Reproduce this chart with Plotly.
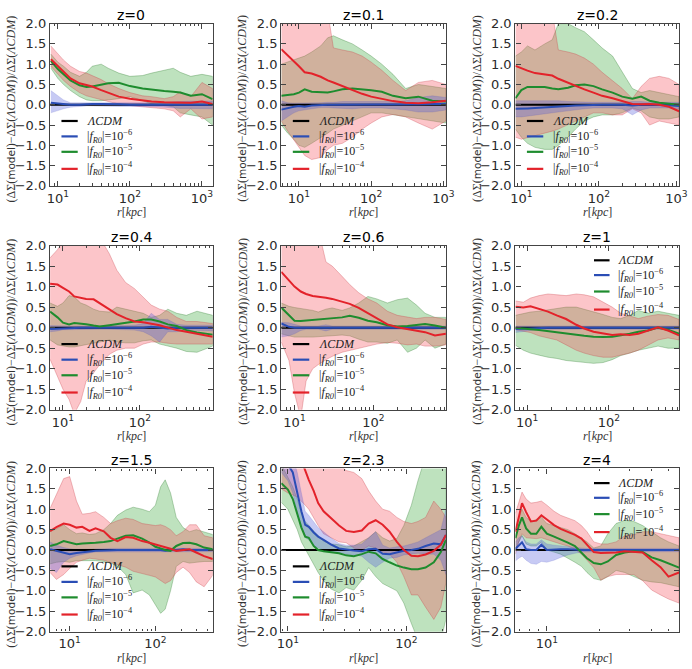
import math
import plotly.graph_objects as go

W, H = 692, 669
TITLES = ["z=0", "z=0.1", "z=0.2", "z=0.4", "z=0.6", "z=1", "z=1.5", "z=2.3", "z=4"]
LCDM_LEVEL = 0.0
X_TICKS = [10, 100, 1000]
X_TICKTEXT = ["10<sup>1</sup>", "10<sup>2</sup>", "10<sup>3</sup>"]
Y_TICKS = [-2.0, -1.5, -1.0, -0.5, 0.0, 0.5, 1.0, 1.5, 2.0]
LEG_LABELS = ["<i>ΛCDM</i>",
              "|<i>f</i><sub><i>R0</i></sub>|=10<sup>−6</sup>",
              "|<i>f</i><sub><i>R0</i></sub>|=10<sup>−5</sup>",
              "|<i>f</i><sub><i>R0</i></sub>|=10<sup>−4</sup>"]
LEG_POS = ["ll", "ll", "ll", "ll", "ll", "ur", "ll", "ll", "ur"]
X_RANGES = [[7.8, 1410], [5.7, 1080], [8.4, 1080], [6.8, 880], [6.8, 826],
            [7.2, 724], [5.9, 466], [8.8, 215], [6.6, 57.5]]

# ---------------- z=0 ----------------
R_Z0 = [8, 10, 12, 15, 20, 25, 30, 40, 50, 70, 100, 150, 200, 300, 400, 500, 700, 1000, 1400]
RD_Z0 = [1.12, 0.95, 0.82, 0.65, 0.53, 0.48, 0.45, 0.36, 0.30, 0.20, 0.15, 0.10, 0.08, 0.06, 0.06, 0.05, 0.05, 0.08, 0.02]
RL_Z0 = [0.95, 0.75, 0.60, 0.45, 0.30, 0.22, 0.18, 0.12, 0.08, 0.02, -0.02, -0.05, -0.08, -0.10, -0.15, -0.30, -0.10, -0.35, -0.30]
RH_Z0 = [1.45, 1.25, 1.10, 0.95, 0.82, 0.78, 0.72, 0.62, 0.52, 0.40, 0.30, 0.22, 0.20, 0.15, 0.20, 0.32, 0.20, 0.55, 0.40]
G_Z0 = [1.08, 0.88, 0.75, 0.60, 0.48, 0.44, 0.45, 0.50, 0.53, 0.54, 0.46, 0.40, 0.37, 0.34, 0.32, 0.30, 0.22, 0.26, 0.14]
GL_Z0 = [0.90, 0.65, 0.50, 0.35, 0.20, 0.12, 0.10, 0.10, 0.12, 0.15, 0.20, 0.10, 0.02, -0.02, -0.05, -0.20, -0.25, -0.30, -0.50]
GH_Z0 = [1.25, 1.05, 0.95, 0.80, 0.70, 0.80, 0.95, 1.00, 0.90, 0.78, 0.70, 0.72, 0.78, 0.85, 0.90, 0.80, 0.70, 0.75, 0.70]
B_Z0 = [0.05, 0.03, 0.02, 0.00, 0.00, 0.02, 0.02, 0.02, 0.01, 0.01, 0.00, 0.00, 0.00, 0.00, 0.00, 0.01, 0.00, 0.01, 0.00]
BL_Z0 = [-0.20, -0.15, -0.10, -0.06, -0.04, -0.03, -0.03, -0.03, -0.03, -0.04, -0.04, -0.04, -0.05, -0.06, -0.07, -0.09, -0.09, -0.09, -0.10]
BH_Z0 = [0.35, 0.22, 0.12, 0.05, 0.04, 0.05, 0.05, 0.05, 0.04, 0.05, 0.04, 0.04, 0.05, 0.06, 0.07, 0.09, 0.09, 0.09, 0.09]

# ---------------- z=0.1 ----------------
R_Z01 = [5.7, 7, 8.5, 10, 12, 15, 20, 25, 30, 40, 55, 75, 100, 140, 200, 300, 450, 700, 1080]
RD_Z01 = [1.37, 1.22, 1.08, 0.95, 0.80, 0.77, 0.69, 0.60, 0.55, 0.46, 0.36, 0.27, 0.20, 0.14, 0.09, 0.05, 0.04, 0.06, 0.10]
RL_Z01 = [-0.40, -0.65, -0.88, -1.05, -1.25, -1.35, -1.30, -1.10, -1.00, -0.95, -0.80, -0.60, -0.45, -0.30, -0.24, -0.30, -0.45, -0.60, -0.40]
RH_Z01 = [2.5, 2.5, 2.5, 2.5, 2.5, 2.5, 2.5, 2.3, 1.40, 1.35, 1.30, 1.20, 1.05, 0.85, 0.60, 0.35, 0.55, 0.60, 0.50]
G_Z01 = [0.22, 0.24, 0.26, 0.30, 0.38, 0.32, 0.30, 0.30, 0.33, 0.38, 0.40, 0.38, 0.36, 0.32, 0.22, 0.16, 0.20, 0.10, 0.08]
GL_Z01 = [-0.50, -0.70, -0.85, -1.00, -1.05, -0.95, -0.80, -0.70, -0.60, -0.50, -0.40, -0.30, -0.20, -0.20, -0.25, -0.30, -0.35, -0.40, -0.45]
GH_Z01 = [1.00, 1.05, 1.10, 1.15, 1.20, 1.30, 1.45, 1.65, 1.70, 1.60, 1.50, 1.35, 1.20, 1.00, 0.75, 0.40, 0.50, 0.45, 0.40]
B_Z01 = [-0.12, -0.08, -0.05, -0.03, -0.05, -0.02, 0.00, 0.00, 0.00, 0.00, 0.00, 0.00, 0.00, 0.00, 0.00, 0.00, 0.01, 0.02, 0.02]
BL_Z01 = [-0.40, -0.30, -0.20, -0.15, -0.12, -0.10, -0.07, -0.07, -0.08, -0.08, -0.10, -0.08, -0.08, -0.08, -0.10, -0.13, -0.18, -0.18, -0.13]
BH_Z01 = [0.10, 0.05, 0.04, 0.04, 0.04, 0.05, 0.05, 0.06, 0.06, 0.08, 0.08, 0.08, 0.08, 0.08, 0.08, 0.10, 0.18, 0.22, 0.18]

# ---------------- z=0.2 ----------------
R_Z02 = [8.4, 10, 12, 15, 20, 25, 30, 40, 50, 65, 85, 110, 150, 200, 270, 350, 450, 600, 800, 1080]
RD_Z02 = [0.96, 0.90, 0.84, 0.78, 0.74, 0.72, 0.64, 0.54, 0.46, 0.38, 0.30, 0.22, 0.16, 0.09, 0.02, 0.01, 0.02, 0.00, -0.05, -0.16]
RL_Z02 = [-0.80, -0.85, -0.80, -0.75, -0.70, -0.65, -0.60, -0.50, -0.40, -0.30, -0.20, -0.20, -0.25, -0.25, -0.10, -0.20, -0.50, -0.40, -0.45, -0.50]
RH_Z02 = [2.5, 2.5, 2.5, 2.5, 2.5, 2.3, 1.35, 1.30, 1.25, 1.15, 1.00, 0.80, 0.60, 0.40, 0.15, 0.45, 0.65, 0.70, 0.65, 0.50]
G_Z02 = [0.16, 0.36, 0.44, 0.44, 0.44, 0.40, 0.38, 0.42, 0.48, 0.50, 0.46, 0.38, 0.30, 0.20, 0.15, 0.20, 0.10, 0.05, 0.02, 0.00]
GL_Z02 = [-0.60, -0.80, -0.95, -1.05, -1.10, -1.10, -1.00, -0.80, -0.60, -0.40, -0.30, -0.25, -0.25, -0.20, -0.08, -0.15, -0.30, -0.35, -0.35, -0.30]
GH_Z02 = [1.20, 1.30, 1.45, 1.35, 1.50, 1.60, 2.00, 2.00, 1.90, 1.80, 1.60, 1.40, 1.20, 0.80, 0.40, 0.30, 0.35, 0.30, 0.25, 0.20]
B_Z02 = [-0.10, -0.10, -0.09, -0.08, -0.07, -0.05, -0.04, -0.03, -0.02, -0.01, 0.00, 0.00, 0.00, 0.00, -0.02, 0.00, 0.00, 0.00, -0.01, -0.03]
BL_Z02 = [-0.30, -0.30, -0.28, -0.25, -0.22, -0.20, -0.18, -0.15, -0.12, -0.10, -0.08, -0.08, -0.08, -0.10, -0.25, -0.13, -0.08, -0.08, -0.08, -0.10]
BH_Z02 = [0.10, 0.10, 0.10, 0.10, 0.10, 0.10, 0.10, 0.08, 0.07, 0.06, 0.06, 0.06, 0.06, 0.06, 0.08, 0.08, 0.06, 0.06, 0.06, 0.06]

# ---------------- z=0.4 ----------------
R_Z04 = [6.8, 8.5, 10, 12, 14, 17, 20, 25, 30, 40, 50, 65, 85, 110, 140, 180, 230, 300, 400, 550, 880]
RD_Z04 = [1.07, 1.05, 0.97, 0.88, 0.76, 0.72, 0.70, 0.69, 0.60, 0.45, 0.33, 0.23, 0.15, 0.13, 0.10, 0.06, 0.00, -0.06, -0.10, -0.15, -0.22]
RL_Z04 = [-0.77, -1.20, -1.50, -1.75, -2.10, -1.80, -1.30, -1.10, -0.90, -0.65, -0.55, -0.50, -0.50, -0.40, -0.35, -0.35, -0.38, -0.40, -0.40, -0.40, -0.40]
RH_Z04 = [1.70, 1.90, 2.10, 2.30, 2.30, 2.30, 2.30, 2.30, 2.20, 1.80, 1.40, 1.10, 0.95, 0.75, 0.55, 0.45, 0.40, 0.25, 0.15, 0.15, 0.10]
G_Z04 = [0.39, 0.25, 0.12, 0.08, 0.11, 0.10, 0.08, 0.05, 0.03, 0.06, 0.09, 0.11, 0.15, 0.20, 0.20, 0.15, 0.08, 0.04, -0.06, -0.12, -0.17]
GL_Z04 = [-0.30, -0.42, -0.45, -0.47, -0.47, -0.45, -0.42, -0.38, -0.35, -0.30, -0.35, -0.37, -0.37, -0.32, -0.30, -0.40, -0.45, -0.50, -0.58, -0.60, -0.45]
GH_Z04 = [0.60, 0.52, 0.60, 0.78, 0.75, 0.60, 0.55, 0.45, 0.40, 0.38, 0.50, 0.45, 0.40, 0.35, 0.25, 0.30, 0.45, 0.35, 0.30, 0.40, 0.30]
B_Z04 = [-0.03, -0.02, -0.01, 0.00, 0.00, 0.00, 0.00, 0.01, 0.00, 0.00, 0.00, 0.01, 0.00, 0.00, 0.02, 0.00, -0.02, 0.00, 0.00, 0.00, 0.00]
BL_Z04 = [-0.10, -0.08, -0.05, -0.04, -0.04, -0.04, -0.04, -0.04, -0.04, -0.04, -0.04, -0.05, -0.06, -0.10, -0.20, -0.35, -0.10, -0.10, -0.06, -0.06, -0.08]
BH_Z04 = [0.05, 0.04, 0.04, 0.04, 0.04, 0.04, 0.04, 0.04, 0.04, 0.04, 0.04, 0.05, 0.06, 0.10, 0.35, 0.20, 0.20, 0.08, 0.06, 0.06, 0.06]

# ---------------- z=0.6 ----------------
R_Z06 = [6.8, 8.5, 10, 12, 14, 17, 20, 25, 30, 40, 50, 65, 85, 110, 150, 200, 270, 350, 450, 600, 826]
RD_Z06 = [1.36, 1.14, 1.00, 0.88, 0.82, 0.77, 0.76, 0.73, 0.70, 0.64, 0.58, 0.48, 0.35, 0.21, 0.08, 0.01, -0.03, -0.07, -0.11, -0.19, -0.15]
RL_Z06 = [-0.35, -0.80, -1.60, -2.20, -1.30, -1.00, -0.90, -0.78, -0.70, -0.60, -0.55, -0.50, -0.45, -0.40, -0.36, -0.38, -0.42, -0.40, -0.45, -0.45, -0.42]
RH_Z06 = [2.2, 2.2, 2.2, 2.2, 2.2, 2.3, 2.4, 1.60, 1.50, 1.25, 1.05, 0.85, 0.70, 0.60, 0.40, 0.30, 0.25, 0.22, 0.25, 0.25, 0.20]
G_Z06 = [0.49, 0.30, 0.17, 0.16, 0.17, 0.20, 0.21, 0.21, 0.22, 0.25, 0.29, 0.24, 0.17, 0.13, 0.06, 0.03, 0.04, 0.06, 0.09, 0.05, 0.00]
GL_Z06 = [-0.15, -0.20, -0.23, -0.23, -0.23, -0.23, -0.23, -0.22, -0.20, -0.18, -0.20, -0.28, -0.35, -0.35, -0.38, -0.30, -0.60, -0.50, -0.30, -0.50, -0.40]
GH_Z06 = [0.60, 0.52, 0.49, 0.47, 0.45, 0.42, 0.38, 0.45, 0.48, 0.42, 0.48, 0.60, 0.76, 0.70, 0.60, 0.68, 0.72, 0.55, 0.35, 0.25, 0.25]
B_Z06 = [0.10, 0.02, 0.00, 0.00, 0.00, -0.01, 0.00, 0.00, 0.00, 0.00, 0.00, 0.00, 0.00, 0.00, 0.00, 0.00, 0.00, 0.00, 0.00, 0.00, 0.00]
BL_Z06 = [-0.23, -0.20, -0.15, -0.07, -0.04, -0.04, -0.04, -0.08, -0.04, -0.04, -0.04, -0.04, -0.04, -0.04, -0.04, -0.04, -0.04, -0.04, -0.04, -0.04, -0.04]
BH_Z06 = [0.13, 0.12, 0.08, 0.04, 0.04, 0.04, 0.04, 0.07, 0.04, 0.04, 0.04, 0.04, 0.04, 0.04, 0.04, 0.04, 0.04, 0.04, 0.04, 0.04, 0.04]

# ---------------- z=1 ----------------
R_Z1 = [7.2, 9, 11, 14, 18, 23, 30, 40, 50, 65, 85, 110, 140, 180, 230, 300, 400, 530, 724]
RD_Z1 = [0.51, 0.49, 0.52, 0.46, 0.39, 0.30, 0.21, 0.07, -0.02, -0.10, -0.15, -0.18, -0.16, -0.18, -0.15, -0.07, 0.01, -0.07, -0.19]
RL_Z1 = [-0.05, -0.08, -0.12, -0.20, -0.25, -0.30, -0.42, -0.55, -0.62, -0.68, -0.72, -0.72, -0.68, -0.62, -0.55, -0.42, -0.30, -0.25, -0.30]
RH_Z1 = [0.65, 0.62, 0.72, 0.78, 0.82, 0.80, 0.78, 0.82, 0.80, 0.75, 0.62, 0.50, 0.35, 0.28, 0.22, 0.28, 0.32, 0.30, 0.20]
G_Z1 = [0.00, -0.03, -0.04, -0.06, -0.09, -0.11, -0.14, -0.18, -0.20, -0.22, -0.23, -0.22, -0.19, -0.15, -0.10, -0.07, 0.00, -0.05, -0.15]
GL_Z1 = [-0.43, -0.55, -0.62, -0.67, -0.72, -0.75, -0.80, -0.83, -0.85, -0.87, -0.85, -0.78, -0.68, -0.62, -0.55, -0.50, -0.45, -0.50, -0.50]
GH_Z1 = [0.30, 0.35, 0.38, 0.40, 0.43, 0.45, 0.50, 0.50, 0.45, 0.38, 0.32, 0.25, 0.22, 0.30, 0.42, 0.35, 0.40, 0.35, 0.30]
B_Z1 = [-0.03, -0.02, -0.01, 0.00, 0.00, 0.00, 0.00, 0.00, 0.00, 0.00, 0.00, 0.00, 0.00, 0.00, 0.00, 0.00, 0.00, 0.00, 0.00]
BL_Z1 = [-0.12, -0.10, -0.07, -0.04, -0.04, -0.04, -0.04, -0.04, -0.04, -0.04, -0.04, -0.04, -0.04, -0.04, -0.04, -0.04, -0.04, -0.04, -0.04]
BH_Z1 = [0.04, 0.04, 0.04, 0.04, 0.04, 0.04, 0.04, 0.04, 0.04, 0.04, 0.04, 0.04, 0.04, 0.04, 0.04, 0.04, 0.04, 0.04, 0.04]

# ---------------- z=1.5 ----------------
R_Z15 = [5.9, 7, 8.5, 10, 12, 14, 17, 20, 25, 30, 36, 45, 55, 70, 85, 100, 115, 130, 150, 175, 210, 250, 300, 370, 466]
RD_Z15 = [0.46, 0.56, 0.65, 0.62, 0.55, 0.57, 0.47, 0.53, 0.46, 0.30, 0.22, 0.32, 0.30, 0.22, 0.18, 0.14, 0.11, 0.08, 0.03, -0.02, 0.00, 0.02, -0.06, -0.15, -0.22]
RL_Z15 = [-0.55, -0.72, -0.60, -0.45, -0.30, -0.25, -0.20, -0.22, -0.25, -0.30, -0.35, -0.42, -0.52, -0.58, -0.62, -0.66, -0.75, -0.82, -0.75, -0.55, -0.42, -0.55, -0.78, -0.90, -0.62]
RH_Z15 = [1.02, 1.35, 1.75, 1.80, 1.20, 0.88, 0.90, 0.94, 0.80, 0.65, 0.72, 0.78, 0.75, 0.65, 0.62, 0.60, 0.62, 0.58, 0.50, 0.35, 0.45, 0.62, 0.62, 0.35, 0.30]
G_Z15 = [0.10, 0.14, 0.22, 0.18, 0.14, 0.16, 0.18, 0.18, 0.20, 0.22, 0.28, 0.35, 0.36, 0.28, 0.18, 0.08, 0.04, 0.00, -0.02, 0.10, 0.17, 0.18, 0.14, 0.06, 0.02]
GL_Z15 = [-0.34, -0.30, -0.28, -0.30, -0.26, -0.26, -0.26, -0.26, -0.28, -0.32, -0.40, -0.60, -1.05, -0.98, -1.10, -1.35, -1.55, -1.45, -1.00, -0.40, -0.28, -0.32, -0.30, -0.28, -0.28]
GH_Z15 = [0.46, 0.52, 0.62, 0.50, 0.40, 0.42, 0.38, 0.40, 0.50, 0.65, 0.85, 0.98, 1.05, 1.00, 0.94, 1.10, 1.55, 1.72, 1.40, 0.80, 0.55, 0.45, 0.50, 0.45, 0.38]
B_Z15 = [0.02, -0.02, -0.08, -0.10, -0.07, -0.05, -0.03, -0.02, -0.01, 0.00, 0.00, 0.00, 0.00, 0.00, 0.00, 0.00, 0.00, -0.02, 0.00, 0.00, 0.02, 0.00, 0.00, 0.00, 0.00]
BL_Z15 = [-0.45, -0.55, -0.30, -0.20, -0.14, -0.10, -0.07, -0.05, -0.05, -0.04, -0.04, -0.04, -0.04, -0.04, -0.04, -0.04, -0.04, -0.05, -0.05, -0.04, -0.04, -0.04, -0.04, -0.04, -0.04]
BH_Z15 = [0.20, 0.12, 0.06, 0.03, 0.02, 0.02, 0.02, 0.02, 0.03, 0.04, 0.04, 0.04, 0.04, 0.04, 0.04, 0.04, 0.04, 0.04, 0.04, 0.04, 0.05, 0.04, 0.04, 0.04, 0.04]

# ---------------- z=2.3 ----------------
R_Z23 = [8.8, 10, 11, 12, 13, 14, 15, 16.5, 18, 20, 23, 27, 31, 36, 42, 48, 55, 63, 72, 83, 95, 110, 125, 145, 170, 195, 215]
RD_Z23 = [3.0, 2.9, 2.7, 2.5, 2.2, 1.95, 1.72, 1.45, 1.15, 0.95, 0.78, 0.60, 0.47, 0.44, 0.48, 0.65, 0.73, 0.62, 0.45, 0.20, 0.00, -0.14, -0.15, -0.11, -0.02, 0.13, 0.37]
RL_Z23 = [1.5, 1.4, 1.35, 1.3, 1.2, 1.1, 1.0, 0.8, 0.6, 0.4, 0.3, 0.2, 0.18, 0.05, 0.0, 0.1, 0.05, -0.05, -0.10, -0.30, -0.65, -1.10, -1.10, -1.40, -1.70, -1.40, -0.80]
RH_Z23 = [3.0, 3.0, 3.0, 3.0, 3.0, 3.0, 3.0, 3.0, 3.0, 2.5, 2.3, 2.1, 1.95, 1.90, 1.75, 1.45, 1.20, 1.00, 0.95, 0.80, 0.70, 0.65, 0.70, 0.80, 1.20, 1.00, 0.80]
G_Z23 = [1.64, 1.48, 1.25, 0.85, 0.55, 0.33, 0.30, 0.10, 0.00, -0.03, -0.06, -0.08, -0.13, -0.15, -0.10, -0.04, -0.08, -0.22, -0.30, -0.38, -0.43, -0.47, -0.47, -0.43, -0.30, -0.05, 0.25]
GL_Z23 = [1.17, 1.00, 0.75, 0.50, 0.20, 0.05, -0.10, -0.35, -0.55, -0.75, -0.95, -1.05, -0.92, -0.98, -0.74, -0.43, -0.65, -0.82, -0.90, -1.00, -1.30, -1.80, -2.2, -2.2, -2.2, -2.2, -1.70]
GH_Z23 = [2.10, 1.80, 1.55, 1.25, 0.90, 0.70, 0.60, 0.45, 0.35, 0.22, 0.15, 0.13, 0.08, 0.10, 0.20, 0.30, 0.45, 0.30, 0.22, 0.28, 0.60, 1.10, 1.70, 2.3, 2.3, 2.3, 2.3]
B_Z23 = [2.3, 2.1, 1.9, 1.4, 0.95, 0.62, 0.57, 0.43, 0.33, 0.25, 0.14, 0.04, 0.01, -0.01, -0.03, 0.02, 0.03, -0.09, -0.10, -0.05, -0.02, 0.00, 0.03, 0.10, 0.16, 0.14, 0.37]
BL_Z23 = [1.9, 1.7, 1.4, 0.9, 0.6, 0.3, 0.25, 0.10, 0.05, 0.00, -0.05, -0.08, -0.10, -0.12, -0.15, -0.30, -0.42, -0.30, -0.20, -0.18, -0.12, -0.10, -0.08, -0.10, -0.10, -0.25, -0.60]
BH_Z23 = [2.6, 2.5, 2.3, 1.9, 1.4, 0.95, 0.85, 0.70, 0.55, 0.45, 0.30, 0.16, 0.12, 0.12, 0.15, 0.30, 0.45, 0.12, 0.05, 0.08, 0.10, 0.15, 0.20, 0.30, 0.40, 0.50, 1.00]

# ---------------- z=4 ----------------
R_Z4 = [6.6, 6.9, 7.2, 7.6, 8.1, 8.7, 9.3, 10, 11, 12, 13.2, 14.5, 15.8, 17, 18.6, 20.4, 22.4, 25, 28, 31.6, 35.5, 40, 45, 50, 57.5]
RD_Z4 = [0.45, 0.77, 1.15, 0.93, 0.70, 0.72, 0.85, 0.75, 0.61, 0.52, 0.45, 0.37, 0.28, 0.12, -0.05, -0.07, -0.07, -0.06, -0.03, -0.05, -0.06, -0.25, -0.42, -0.65, -0.55]
RL_Z4 = [-0.10, 0.20, 0.40, 0.30, 0.30, 0.28, 0.30, 0.25, 0.20, 0.15, 0.10, 0.02, -0.10, -0.25, -0.43, -0.74, -0.65, -0.60, -0.60, -0.60, -0.75, -0.98, -1.10, -1.20, -1.30]
RH_Z4 = [0.90, 1.20, 1.42, 1.25, 1.15, 1.17, 1.20, 1.10, 0.95, 0.85, 0.78, 0.72, 0.60, 0.45, 0.20, 0.15, 0.15, 0.20, 0.35, 0.38, 0.45, 0.45, 0.40, 0.35, 0.30]
G_Z4 = [0.29, 0.60, 0.80, 0.53, 0.40, 0.40, 0.57, 0.40, 0.33, 0.25, 0.18, 0.10, -0.05, -0.20, -0.32, -0.35, -0.28, -0.12, -0.06, -0.03, -0.05, -0.18, -0.25, -0.32, -0.43]
GL_Z4 = [0.00, 0.20, 0.35, 0.15, 0.10, 0.10, 0.20, 0.00, -0.05, -0.10, -0.20, -0.30, -0.40, -0.55, -0.70, -0.74, -0.65, -0.50, -0.55, -0.65, -0.74, -0.78, -0.80, -0.85, -0.90]
GH_Z4 = [0.50, 0.80, 1.00, 0.80, 0.70, 0.75, 0.80, 0.65, 0.60, 0.55, 0.50, 0.40, 0.30, 0.20, 0.05, 0.10, 0.40, 0.65, 0.73, 0.70, 0.60, 0.45, 0.30, 0.20, 0.10]
B_Z4 = [0.03, 0.12, 0.19, 0.02, 0.00, 0.00, 0.13, 0.00, 0.02, 0.02, 0.02, 0.00, 0.00, 0.00, 0.00, 0.00, 0.00, 0.00, 0.00, 0.00, 0.00, 0.00, 0.00, 0.00, 0.00]
BL_Z4 = [-0.27, -0.20, -0.15, -0.25, -0.33, -0.35, -0.28, -0.30, -0.25, -0.18, -0.12, -0.08, -0.05, -0.04, -0.04, -0.04, -0.04, -0.04, -0.04, -0.04, -0.04, -0.04, -0.04, -0.04, -0.04]
BH_Z4 = [0.20, 0.30, 0.35, 0.20, 0.15, 0.15, 0.25, 0.15, 0.12, 0.10, 0.08, 0.06, 0.05, 0.04, 0.04, 0.04, 0.04, 0.04, 0.04, 0.04, 0.04, 0.04, 0.04, 0.04, 0.04]

PANELS = [
    (R_Z0, B_Z0, BL_Z0, BH_Z0, G_Z0, GL_Z0, GH_Z0, RD_Z0, RL_Z0, RH_Z0),
    (R_Z01, B_Z01, BL_Z01, BH_Z01, G_Z01, GL_Z01, GH_Z01, RD_Z01, RL_Z01, RH_Z01),
    (R_Z02, B_Z02, BL_Z02, BH_Z02, G_Z02, GL_Z02, GH_Z02, RD_Z02, RL_Z02, RH_Z02),
    (R_Z04, B_Z04, BL_Z04, BH_Z04, G_Z04, GL_Z04, GH_Z04, RD_Z04, RL_Z04, RH_Z04),
    (R_Z06, B_Z06, BL_Z06, BH_Z06, G_Z06, GL_Z06, GH_Z06, RD_Z06, RL_Z06, RH_Z06),
    (R_Z1, B_Z1, BL_Z1, BH_Z1, G_Z1, GL_Z1, GH_Z1, RD_Z1, RL_Z1, RH_Z1),
    (R_Z15, B_Z15, BL_Z15, BH_Z15, G_Z15, GL_Z15, GH_Z15, RD_Z15, RL_Z15, RH_Z15),
    (R_Z23, B_Z23, BL_Z23, BH_Z23, G_Z23, GL_Z23, GH_Z23, RD_Z23, RL_Z23, RH_Z23),
    (R_Z4, B_Z4, BL_Z4, BH_Z4, G_Z4, GL_Z4, GH_Z4, RD_Z4, RL_Z4, RH_Z4),
]

# styles
C_BLACK = "#000000"
C_BLUE = "#2a4db5"
C_GREEN = "#1e8c2e"
C_RED = "#e3222a"
F_BLUE = "rgba(80,90,220,0.32)"
F_GREEN = "rgba(40,160,40,0.30)"
F_RED = "rgba(245,80,90,0.33)"
E_BLUE = "rgba(60,70,190,0.30)"
E_GREEN = "rgba(40,120,40,0.45)"
E_RED = "rgba(200,60,70,0.45)"
AX_COLOR = "#444444"

COL_PX = [(46, 212), (282, 450), (521, 688)]
ROW_PX = [(17, 183), (244, 412), (472, 639)]

MINOR = [m * 10 ** k for k in range(0, 4) for m in range(2, 10)]

fig = go.Figure()
layout = dict(width=W, height=H, margin=dict(l=0, r=0, t=0, b=0),
              paper_bgcolor="white", plot_bgcolor="white", showlegend=False)
annotations = []
shapes = []

YLABEL = ('<span style="font-family:Liberation Serif;font-size:12px">(ΔΣ(</span>model'
          '<span style="font-family:Liberation Serif;font-size:12px">)−ΔΣ(<i>ΛCDM</i>))/ΔΣ(<i>ΛCDM</i>)</span>')
XLABEL = "<i>r</i>[<i>kpc</i>]"

for k, p in enumerate(PANELS):
    r, b, bl, bh, g, gl, gh, rd, rl, rh = p
    n = k + 1
    xs = "x" if n == 1 else f"x{n}"
    ys = "y" if n == 1 else f"y{n}"
    row, col = divmod(k, 3)
    x0, x1 = COL_PX[col]
    y0, y1 = ROW_PX[row]

    def band(lo, hi, fc, ec, w):
        fig.add_trace(go.Scatter(x=list(r) + list(r)[::-1], y=list(hi) + list(lo)[::-1],
                                 fill="toself", fillcolor=fc, mode="lines",
                                 line=dict(color=ec, width=w), xaxis=xs, yaxis=ys,
                                 hoverinfo="skip"))

    band(gl, gh, F_GREEN, E_GREEN, 0.7)
    band(rl, rh, F_RED, E_RED, 0.7)
    band(bl, bh, F_BLUE, E_BLUE, 0.5)
    fig.add_trace(go.Scatter(x=[X_RANGES[k][0], X_RANGES[k][1]], y=[LCDM_LEVEL, LCDM_LEVEL],
                             mode="lines", line=dict(color=C_BLACK, width=2), xaxis=xs, yaxis=ys))
    for yy, cc in ((b, C_BLUE), (g, C_GREEN), (rd, C_RED)):
        fig.add_trace(go.Scatter(x=r, y=yy, mode="lines", line=dict(color=cc, width=2),
                                 xaxis=xs, yaxis=ys))

    axkey = "xaxis" if n == 1 else f"xaxis{n}"
    aykey = "yaxis" if n == 1 else f"yaxis{n}"
    common = dict(ticks="inside", ticklen=5, tickwidth=1, tickcolor=AX_COLOR,
                  showline=True, linecolor=AX_COLOR, linewidth=1.4, mirror="allticks",
                  showgrid=False, zeroline=False,
                  tickfont=dict(family="DejaVu Sans", size=13, color="#2a2a2a"))
    layout[axkey] = dict(type="log", range=[math.log10(X_RANGES[k][0]), math.log10(X_RANGES[k][1])],
                         domain=[x0 / W, x1 / W], anchor=ys,
                         tickmode="array", tickvals=X_TICKS, ticktext=X_TICKTEXT,
                         minor=dict(ticks="inside", ticklen=2.5, tickcolor=AX_COLOR,
                                    tickmode="array", tickvals=MINOR),
                         **common)
    layout[aykey] = dict(range=[-2, 2], domain=[1 - y1 / H, 1 - y0 / H], anchor=xs,
                         tickmode="array", tickvals=Y_TICKS, tickformat=".1f", **common)

    cx = (x0 + x1) / 2 / W
    annotations.append(dict(text=TITLES[k], x=cx, y=1 - (y0 - 9) / H, xref="paper", yref="paper",
                            showarrow=False, font=dict(family="DejaVu Sans", size=14, color="#000"),
                            xanchor="center", yanchor="middle"))
    annotations.append(dict(text=XLABEL, x=cx, y=1 - (y1 + 27) / H, xref="paper", yref="paper",
                            showarrow=False, font=dict(family="Liberation Serif", size=12, color="#333"),
                            xanchor="center", yanchor="middle"))
    annotations.append(dict(text=YLABEL, x=(x0 - 40) / W, y=1 - ((y0 + y1) / 2 + 4) / H,
                            xref="paper", yref="paper", textangle=-90, showarrow=False,
                            font=dict(family="DejaVu Sans", size=10.5, color="#333"),
                            xanchor="center", yanchor="middle"))

    # legend drawn per panel
    if LEG_POS[k] == "ll":
        lx0, lx1, tx = 0.07, 0.17, 0.215
        rows = [0.40, 0.305, 0.21, 0.105]
    else:
        lx0, lx1, tx = 0.48, 0.575, 0.615
        rows = [0.91, 0.82, 0.72, 0.61]
    for lab, cc, yy in zip(LEG_LABELS, (C_BLACK, C_BLUE, C_GREEN, C_RED), rows):
        shapes.append(dict(type="line", xref=f"{xs} domain", yref=f"{ys} domain",
                           x0=lx0, x1=lx1, y0=yy, y1=yy, line=dict(color=cc, width=2.2)))
        annotations.append(dict(text=lab, x=tx, y=yy, xref=f"{xs} domain", yref=f"{ys} domain",
                                showarrow=False, xanchor="left", yanchor="middle",
                                font=dict(family="Liberation Serif", size=12, color="#222")))

layout["annotations"] = annotations
layout["shapes"] = shapes
fig.update_layout(**layout)
fig.write_html("out.html")
